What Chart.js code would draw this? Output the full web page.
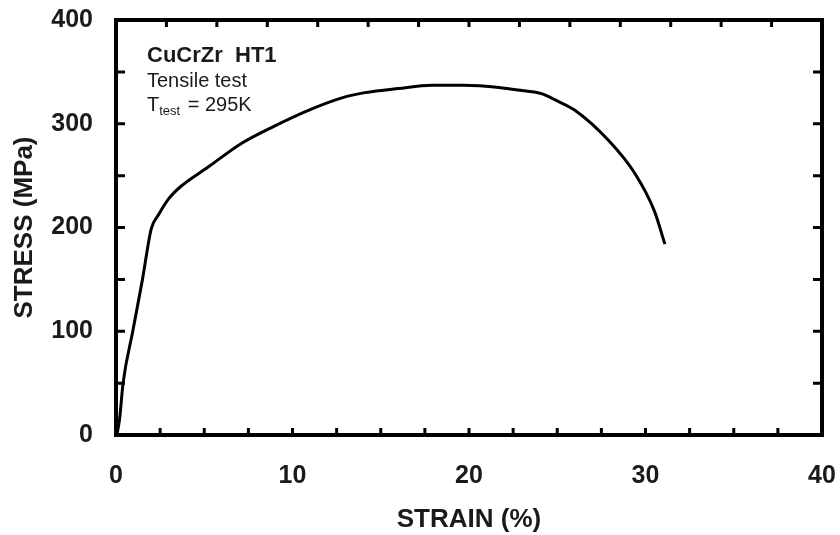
<!DOCTYPE html>
<html>
<head>
<meta charset="utf-8">
<title>CuCrZr HT1 tensile test</title>
<script src="https://cdn.jsdelivr.net/npm/chart.js@4.4.1/dist/chart.umd.min.js"></script>
<style>
  html, body { margin: 0; padding: 0; background: #fff; }
  #wrap { width: 840px; height: 535px; }
</style>
</head>
<body>
<div id="wrap"><canvas id="curve" width="840" height="535"></canvas></div>
<script>
// stress-strain curve, read point by point
var strain = [0.05, 0.2, 0.4, 0.95, 1.5, 2.0, 2.4, 3.0, 3.7, 5.2, 7.1, 9.0, 10.9, 12.8, 14.1, 16.0, 17.9, 19.7, 21.7, 23.0, 24.1, 25.0, 26.0, 27.9, 29.4, 30.5, 31.1];
var stress = [0, 15, 50, 100, 150, 199, 212, 228, 240, 258, 281, 298, 313, 325, 330, 334, 337, 337, 335, 332, 329, 322, 313, 284, 252, 216, 184];

var xTicks = [0, 10, 20, 30, 40];
var yTicks = [0, 100, 200, 300, 400];
var xMinor = 2.5;      // bottom tick spacing
var topMinor = 40 / 14; // top edge tick spacing
var yMinor = 50;

var fam = "'Liberation Sans', Arial, sans-serif";
var tickFont = { family: fam, size: 25, weight: 'bold' };
var titleFont = { family: fam, size: 26, weight: 'bold' };
var ink = '#1a1a1a';

var points = strain.map(function (s, i) { return { x: s, y: stress[i] }; });

// frame, inward ticks and the specimen note
var framePlugin = {
  id: 'frame',
  afterDraw: function (chart) {
    var ctx = chart.ctx, a = chart.chartArea;
    var xs = chart.scales.x, ys = chart.scales.y;
    ctx.save();
    ctx.strokeStyle = '#000';
    ctx.lineWidth = 4;
    ctx.strokeRect(a.left, a.top, a.right - a.left, a.bottom - a.top);

    ctx.lineWidth = 3;
    ctx.beginPath();
    for (var v = xMinor; v < 40; v += xMinor) {
      var px = xs.getPixelForValue(v);
      ctx.moveTo(px, a.bottom); ctx.lineTo(px, a.bottom - 7);
    }
    for (var t = topMinor; t < 40 - 0.01; t += topMinor) {
      var tx = xs.getPixelForValue(t);
      ctx.moveTo(tx, a.top); ctx.lineTo(tx, a.top + 7);
    }
    for (var w = yMinor; w < 400; w += yMinor) {
      var py = ys.getPixelForValue(w);
      ctx.moveTo(a.left, py); ctx.lineTo(a.left + 9, py);
      ctx.moveTo(a.right, py); ctx.lineTo(a.right - 9, py);
    }
    ctx.stroke();

    // specimen note
    var x0 = a.left + 31;
    ctx.fillStyle = ink;
    ctx.textBaseline = 'alphabetic';
    ctx.font = 'bold 22px ' + fam;
    ctx.fillText('CuCrZr  HT1', x0, a.top + 42);
    ctx.font = '20px ' + fam;
    ctx.fillText('Tensile test', x0, a.top + 67);
    ctx.fillText('T', x0, a.top + 91);
    var tw = ctx.measureText('T').width;
    ctx.font = '13px ' + fam;
    ctx.fillText('test', x0 + tw, a.top + 95);
    var sw = ctx.measureText('test').width;
    ctx.font = '20px ' + fam;
    ctx.fillText(' = 295K', x0 + tw + sw + 2, a.top + 91);
    ctx.restore();
  }
};

new Chart(document.getElementById('curve').getContext('2d'), {
  type: 'line',
  data: {
    datasets: [{
      data: points,
      borderColor: '#000',
      borderWidth: 3,
      pointRadius: 0,
      fill: false,
      cubicInterpolationMode: 'monotone'
    }]
  },
  options: {
    responsive: false,
    animation: false,
    layout: { padding: { top: 20, right: 18, bottom: 0, left: 0 } },
    plugins: { legend: { display: false }, tooltip: { enabled: false } },
    scales: {
      x: {
        type: 'linear',
        min: 0,
        max: 40,
        afterFit: function (s) { s.height = 100; s.paddingLeft = 0; s.paddingRight = 0; },
        afterBuildTicks: function (s) { s.ticks = xTicks.map(function (v) { return { value: v }; }); },
        ticks: { color: ink, font: tickFont, padding: 26, maxRotation: 0 },
        grid: { display: false, drawTicks: false },
        border: { display: false },
        title: { display: true, text: 'STRAIN (%)', color: ink, font: titleFont, padding: { top: 0, bottom: 0 } }
      },
      y: {
        min: 0,
        max: 400,
        afterFit: function (s) { s.width = 116; s.paddingTop = 0; s.paddingBottom = 0; },
        afterBuildTicks: function (s) { s.ticks = yTicks.map(function (v) { return { value: v }; }); },
        ticks: { color: ink, font: tickFont, padding: 23 },
        grid: { display: false, drawTicks: false },
        border: { display: false },
        title: { display: true, text: 'STRESS (MPa)', color: ink, font: titleFont, padding: { top: 9, bottom: 0 } }
      }
    }
  },
  plugins: [framePlugin]
});
</script>
</body>
</html>
